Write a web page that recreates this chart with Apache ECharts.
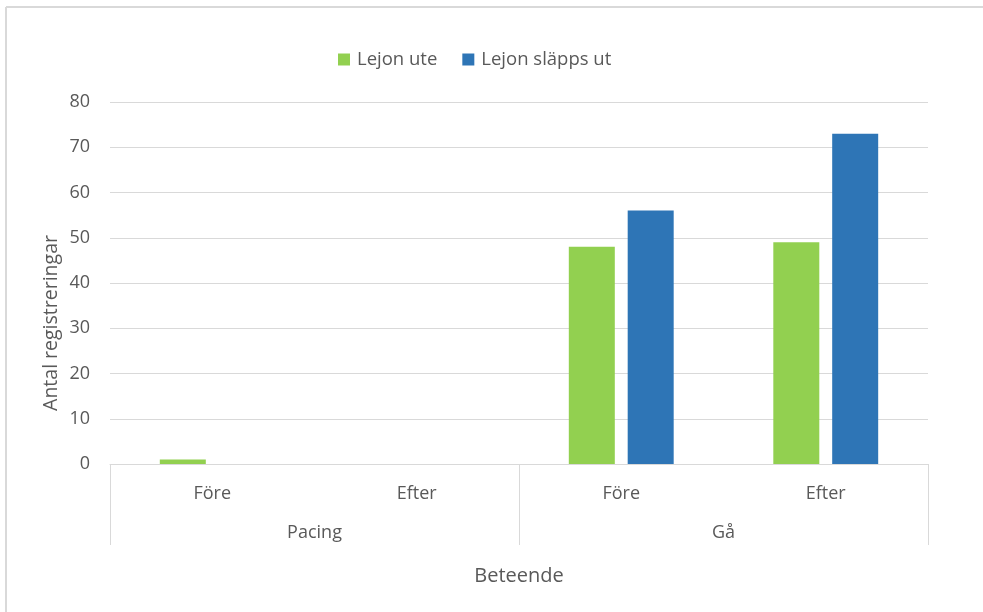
<!DOCTYPE html>
<html>
<head>
<meta charset="utf-8">
<script src="https://cdn.jsdelivr.net/npm/echarts@6/dist/echarts.min.js"></script>
<style>
html,body{margin:0;padding:0;background:#fff;}
#chart{width:983px;height:612px;}
</style>
</head>
<body>
<div id="chart"></div>
<script>
var categories = ['Före', 'Efter', 'Före', 'Efter'];
var groups = ['Pacing', 'Gå'];
var seriesNames = ['Lejon ute', 'Lejon släpps ut'];
var lejonUte = [1, 0, 48, 49];
var lejonSlappsUt = [0, 0, 56, 73];
var yTicks = [0, 80, 10];

var FONT = '"Open Sans", sans-serif';
var TXT = '#595959';
var GRIDC = '#d9d9d9';

var chart = echarts.init(document.getElementById('chart'), null, {renderer: 'canvas'});
chart.setOption({
  backgroundColor: '#fff',
  animation: false,
  textStyle: {fontFamily: FONT, color: TXT},
  color: ['#92D050', '#2E75B6'],
  legend: {
    top: 45,
    left: 333,
    itemWidth: 12,
    itemHeight: 12,
    itemGap: 25,
    icon: 'rect',
    textStyle: {fontFamily: FONT, fontSize: 18.5, color: TXT, padding: [0, 0, 0, 2]},
    data: seriesNames
  },
  grid: {left: 110, right: 55, top: 102, bottom: 148},
  xAxis: [
    {
      type: 'category',
      data: categories,
      axisLine: {show: true, lineStyle: {color: GRIDC, width: 1}},
      axisTick: {show: false},
      axisLabel: {margin: 21, fontSize: 18, color: TXT, fontFamily: FONT}
    },
    {
      type: 'category',
      data: groups,
      position: 'bottom',
      axisLine: {show: false},
      axisTick: {show: true, length: 81, lineStyle: {color: GRIDC, width: 1}},
      axisLabel: {margin: 60, fontSize: 18, color: TXT, fontFamily: FONT},
      name: 'Beteende',
      nameLocation: 'middle',
      nameGap: 102,
      nameTextStyle: {fontSize: 20, color: TXT, fontFamily: FONT}
    }
  ],
  yAxis: {
    type: 'value',
    min: yTicks[0],
    max: yTicks[1],
    interval: yTicks[2],
    axisLine: {show: false},
    axisTick: {show: false},
    splitLine: {lineStyle: {color: GRIDC, width: 1}},
    axisLabel: {margin: 20, fontSize: 18, color: TXT, fontFamily: FONT}
  },
  series: [
    {
      name: seriesNames[0],
      type: 'bar',
      xAxisIndex: 0,
      data: lejonUte,
      barWidth: 46,
      barGap: '28%',
      itemStyle: {color: '#92D050'}
    },
    {
      name: seriesNames[1],
      type: 'bar',
      xAxisIndex: 0,
      data: lejonSlappsUt,
      barWidth: 46,
      barGap: '28%',
      itemStyle: {color: '#2E75B6'}
    }
  ],
  graphic: [
    {type: 'line', shape: {x1: 6, y1: 7, x2: 983, y2: 7}, style: {stroke: GRIDC, lineWidth: 2}, silent: true},
    {type: 'line', shape: {x1: 6, y1: 7, x2: 6, y2: 612}, style: {stroke: GRIDC, lineWidth: 2}, silent: true},
    {
      type: 'text',
      x: 51, y: 323,
      rotation: Math.PI / 2,
      style: {text: 'Antal registreringar', fontSize: 19.5, fontFamily: FONT, fill: TXT, align: 'center', verticalAlign: 'middle'},
      silent: true
    }
  ]
});
</script>
</body>
</html>
